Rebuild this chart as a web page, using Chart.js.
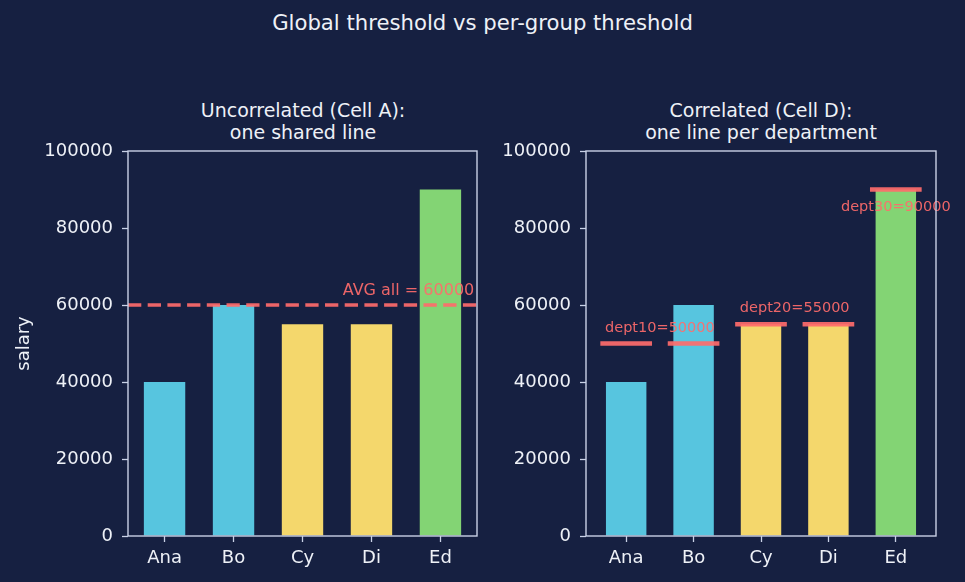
<!DOCTYPE html>
<html>
<head>
<meta charset="utf-8">
<script src="https://cdn.jsdelivr.net/npm/chart.js@4/dist/chart.umd.min.js"></script>
<style>
  html, body { margin:0; padding:0; background:#162041; }
  body { width:965px; height:582px; position:relative; overflow:hidden; font-family:"DejaVu Sans", sans-serif; color:#eef1f7; }
  canvas { position:absolute; left:0; top:0; }
  .title { position:absolute; text-align:center; white-space:nowrap; }
</style>
</head>
<body>
<div class="title" style="left:0;width:965px;top:10px;font-size:21.2px;line-height:25px;">Global threshold vs per-group threshold</div>
<div class="title" style="left:103px;width:400px;top:99px;font-size:19px;line-height:22px;">Uncorrelated (Cell A):<br>one shared line</div>
<div class="title" style="left:561px;width:400px;top:99px;font-size:19px;line-height:22px;">Correlated (Cell D):<br>one line per department</div>
<canvas id="c1" width="965" height="582"></canvas>
<canvas id="c2" width="965" height="582"></canvas>
<script>
// ---- data ----
const names = ['Ana', 'Bo', 'Cy', 'Di', 'Ed'];
const salaries = [40000, 60000, 55000, 55000, 90000];
const nameDept = [0, 0, 1, 1, 2];
const deptNames = ['dept10', 'dept20', 'dept30'];
const deptAvg = [50000, 55000, 90000];
const deptColors = ['#57c5df', '#f4d76c', '#83d474'];
const overallAvg = 60000;
const yTicks = [0, 20000, 40000, 60000, 80000, 100000];

// ---- style ----
const FONT = '"DejaVu Sans", sans-serif';
const TEXT = '#eef1f7';
const AXIS = '#c9d1e6';
const RED = 'rgba(255,107,107,0.92)';

const spines = {
  id: 'spines',
  afterDraw(chart) {
    const {ctx, chartArea: a} = chart;
    ctx.save();
    ctx.strokeStyle = AXIS;
    ctx.lineWidth = 1.4;
    ctx.strokeRect(a.left, a.top, a.right - a.left, a.bottom - a.top);
    ctx.restore();
  }
};

const globalLine = {
  id: 'globalLine',
  afterDatasetsDraw(chart) {
    const {ctx, chartArea: a, scales: {x, y}} = chart;
    const py = y.getPixelForValue(overallAvg);
    ctx.save();
    ctx.strokeStyle = RED;
    ctx.lineWidth = 3.6;
    ctx.setLineDash([13.3, 6.4]);
    ctx.beginPath();
    ctx.moveTo(a.left, py);
    ctx.lineTo(a.right, py);
    ctx.stroke();
    ctx.setLineDash([]);
    ctx.fillStyle = RED;
    ctx.font = '16px ' + FONT;
    ctx.textAlign = 'right';
    ctx.textBaseline = 'alphabetic';
    ctx.fillText('AVG all = ' + overallAvg, x.getPixelForValue(4.49), y.getPixelForValue(overallAvg + 2600));
    ctx.restore();
  }
};

const deptLines = {
  id: 'deptLines',
  afterDatasetsDraw(chart) {
    const {ctx, scales: {x, y}} = chart;
    ctx.save();
    ctx.strokeStyle = RED;
    ctx.lineWidth = 4.5;
    ctx.lineCap = 'square';
    names.forEach((n, i) => {
      const py = y.getPixelForValue(deptAvg[nameDept[i]]);
      ctx.beginPath();
      ctx.moveTo(x.getPixelForValue(i - 0.35), py);
      ctx.lineTo(x.getPixelForValue(i + 0.35), py);
      ctx.stroke();
    });
    ctx.fillStyle = RED;
    ctx.font = '14.5px ' + FONT;
    ctx.textAlign = 'center';
    ctx.textBaseline = 'alphabetic';
    deptNames.forEach((d, k) => {
      const members = names.map((n, i) => i).filter(i => nameDept[i] === k);
      const cx = members.reduce((s, v) => s + v, 0) / members.length;
      const isTop = deptAvg[k] === Math.max(...deptAvg);
      const ty = isTop ? deptAvg[k] - 5700 : deptAvg[k] + 3100;
      ctx.fillText(d + '=' + deptAvg[k], x.getPixelForValue(cx), y.getPixelForValue(ty));
    });
    ctx.restore();
  }
};

function makeChart(id, cfg) {
  return new Chart(document.getElementById(id), {
    type: 'bar',
    data: {
      datasets: [{
        data: names.map((n, i) => ({x: i, y: salaries[i]})),
        backgroundColor: names.map((n, i) => deptColors[nameDept[i]]),
        borderWidth: 0,
        barPercentage: 0.6,
        categoryPercentage: 1
      }]
    },
    options: {
      responsive: false,
      animation: false,
      devicePixelRatio: 1,
      layout: {padding: {left: cfg.padLeft, right: cfg.padRight, top: 151, bottom: 0}},
      plugins: {legend: {display: false}, tooltip: {enabled: false}, title: {display: false}},
      scales: {
        x: {
          type: 'linear', min: cfg.xmin, max: cfg.xmax, offset: false,
          afterBuildTicks: s => { s.ticks = names.map((n, i) => ({value: i})); },
          afterFit: s => { s.height = 46; },
          ticks: {callback: v => names[v], color: TEXT, font: {family: FONT, size: 18}, padding: 6, maxRotation: 0, autoSkip: false},
          grid: {display: true, offset: false, drawOnChartArea: false, drawTicks: true, tickLength: 6, tickColor: AXIS, tickWidth: 1.3, color: AXIS},
          border: {display: false}
        },
        y: {
          type: 'linear', min: 0, max: 100000,
          afterBuildTicks: s => { s.ticks = yTicks.map(v => ({value: v})); },
          afterFit: s => { s.width = 128; },
          ticks: {color: TEXT, font: {family: FONT, size: 18}, padding: 9, callback: v => String(v)},
          grid: {display: true, offset: false, drawOnChartArea: false, drawTicks: true, tickLength: 6, tickColor: AXIS, tickWidth: 1.3, color: AXIS},
          border: {display: false},
          title: {display: cfg.yTitle, text: 'salary', color: TEXT, font: {family: FONT, size: 18}, padding: {top: 14, bottom: 0}}
        }
      }
    },
    plugins: cfg.plugins
  });
}

makeChart('c1', {padLeft: 0, padRight: 965 - 477, xmin: -0.53, xmax: 4.53, yTitle: true, plugins: [globalLine, spines]});
makeChart('c2', {padLeft: 458, padRight: 965 - 936, xmin: -0.596, xmax: 4.596, yTitle: false, plugins: [deptLines, spines]});
</script>
</body>
</html>
